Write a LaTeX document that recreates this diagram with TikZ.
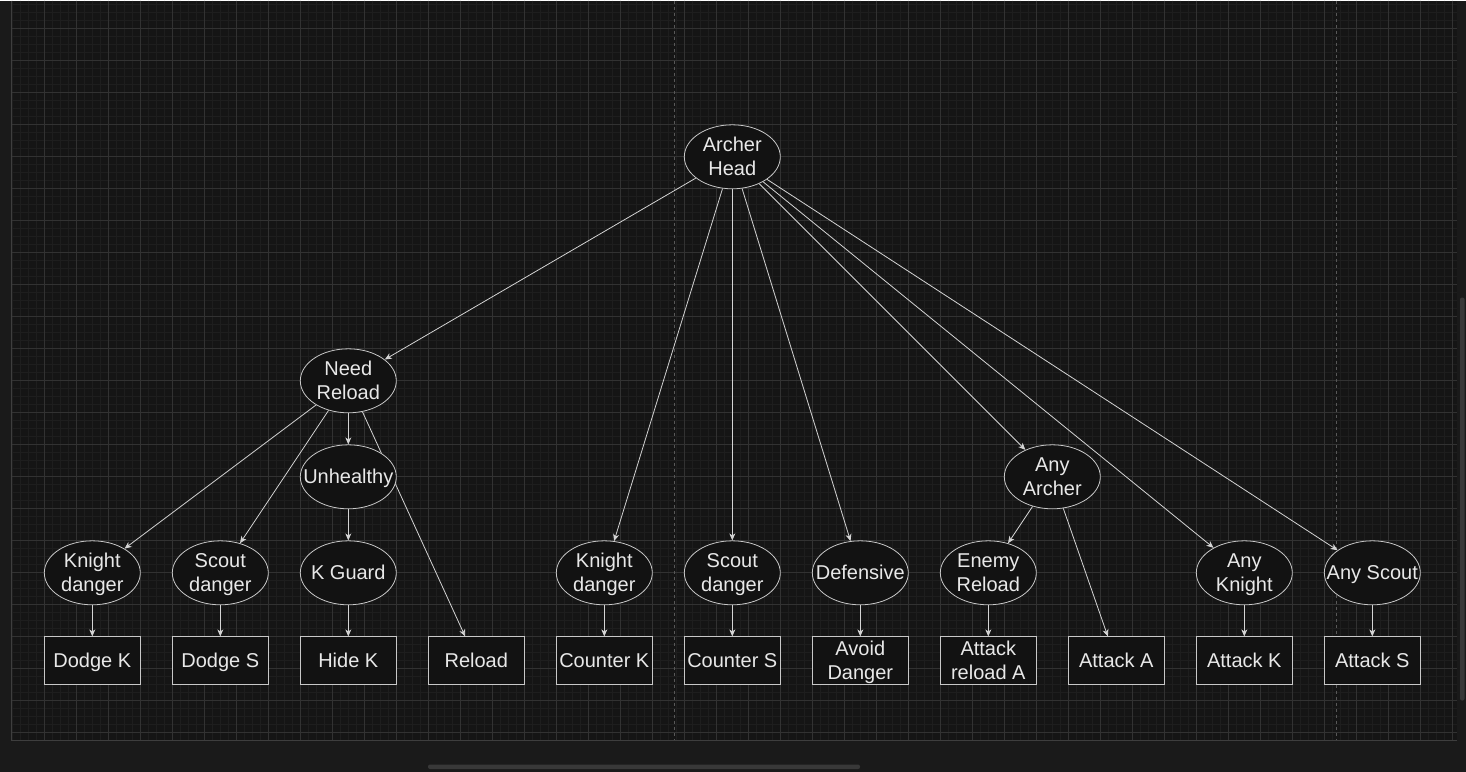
\documentclass[tikz,border=0pt]{standalone}
\usepackage{fontspec}
\setmainfont{Liberation Sans}
\usetikzlibrary{shapes.geometric,arrows.meta}

\definecolor{outerbg}{RGB}{26,26,26}
\definecolor{canvasbg}{RGB}{21,21,21}
\definecolor{gridminor}{RGB}{30,30,30}
\definecolor{gridmajor}{RGB}{50,50,50}
\definecolor{canvasedge}{RGB}{62,62,62}
\definecolor{pagebreak}{RGB}{88,88,88}
\definecolor{shapefill}{RGB}{18,18,18}
\definecolor{shapeline}{RGB}{200,200,200}
\definecolor{edgeline}{RGB}{212,212,212}
\definecolor{labeltext}{RGB}{232,232,232}
\definecolor{scrollbar}{RGB}{56,56,56}

\pgfdeclarelayer{canvas}
\pgfdeclarelayer{links}
\pgfsetlayers{canvas,links,main}

% strut giving every text line the same height and depth
\newcommand\sst{\rule[-4pt]{0pt}{21.5pt}}

\tikzset{
  txt/.style={font=\fontsize{20}{23.5}\selectfont, text=labeltext, align=center, inner sep=0pt},
  cond/.style={ellipse, draw=shapeline, fill=shapefill, line width=0.8pt, inner sep=0pt,
               minimum width=96pt, minimum height=64pt},
  act/.style={rectangle, draw=shapeline, fill=shapefill, line width=0.8pt, inner sep=0pt,
              minimum width=96pt, minimum height=48pt},
  edge/.style={draw=edgeline, line width=0.8pt,
               -{Stealth[length=7pt,width=6pt,inset=2pt]}},
}

% shape of fixed size with its caption laid over it
\newcommand\condnode[3]{\node[cond] (#1) at (#2) {}; \node[txt] (#1-text) at (#1) {#3};}
\newcommand\actnode[3]{\node[act] (#1) at (#2) {}; \node[txt] (#1-text) at (#1) {#3};}

\begin{document}
\begin{tikzpicture}[x=1pt,y=-1pt]
  \begin{pgfonlayer}{canvas}
    % window and canvas
    \fill[outerbg] (0,0) rectangle (1466,771);
    \fill[canvasbg] (12,0) rectangle (1457,740);
    \begin{scope}
      \clip (12,0) rectangle (1457,740);
      \foreach \k in {0,...,181} \draw[gridminor, line width=0.8pt] (12.3+8*\k,0) -- (12.3+8*\k,740);
      \foreach \k in {0,...,92} \draw[gridminor, line width=0.8pt] (12,4.3+8*\k) -- (1457,4.3+8*\k);
      \foreach \k in {0,...,45} \draw[gridmajor, line width=0.9pt] (44.3+32*\k,0) -- (44.3+32*\k,740);
      \foreach \k in {0,...,22} \draw[gridmajor, line width=0.9pt] (12,28.3+32*\k) -- (1457,28.3+32*\k);
      \draw[pagebreak, line width=0.9pt, dash pattern=on 3pt off 3pt] (674.3,0) -- (674.3,740);
      \draw[pagebreak, line width=0.9pt, dash pattern=on 3pt off 3pt] (1336.7,0) -- (1336.7,740);
    \end{scope}
    \draw[canvasedge, line width=1pt] (11.7,0) -- (11.7,740.3) -- (1457,740.3);
    % scroll bars
    \fill[scrollbar, rounded corners=2pt] (428,764) rectangle (860,768.5);
    \fill[scrollbar, rounded corners=2pt] (1460,297) rectangle (1464.5,700);
  \end{pgfonlayer}
  \useasboundingbox (0,0) rectangle (1466,771);

  % conditions
  \condnode{head}{732.3,156.3}{\sst Archer\\\sst Head}
  \condnode{needreload}{348.3,380.3}{\sst Need\\\sst Reload}
  \condnode{unhealthy}{348.3,476.3}{\sst Unhealthy}
  \condnode{anyarcher}{1052.3,476.3}{\sst Any\\\sst Archer}
  \condnode{kdangerA}{92.3,572.3}{\sst Knight\\\sst danger}
  \condnode{sdangerA}{220.3,572.3}{\sst Scout\\\sst danger}
  \condnode{kguard}{348.3,572.3}{\sst K Guard}
  \condnode{kdangerB}{604.3,572.3}{\sst Knight\\\sst danger}
  \condnode{sdangerB}{732.3,572.3}{\sst Scout\\\sst danger}
  \condnode{defensive}{860.3,572.3}{\sst Defensive}
  \condnode{enemyreload}{988.3,572.3}{\sst Enemy\\\sst Reload}
  \condnode{anyknight}{1244.3,572.3}{\sst Any\\\sst Knight}
  \condnode{anyscout}{1372.3,572.3}{\sst Any Scout}

  % actions
  \actnode{dodgek}{92.3,660.3}{\sst Dodge K}
  \actnode{dodges}{220.3,660.3}{\sst Dodge S}
  \actnode{hidek}{348.3,660.3}{\sst Hide K}
  \actnode{reload}{476.3,660.3}{\sst Reload}
  \actnode{counterk}{604.3,660.3}{\sst Counter K}
  \actnode{counters}{732.3,660.3}{\sst Counter S}
  \actnode{avoid}{860.3,660.3}{\sst Avoid\\\sst Danger}
  \actnode{attackra}{988.3,660.3}{\sst Attack\\\sst reload A}
  \actnode{attacka}{1116.3,660.3}{\sst Attack A}
  \actnode{attackk}{1244.3,660.3}{\sst Attack K}
  \actnode{attacks}{1372.3,660.3}{\sst Attack S}

  % connectors, kept behind the shapes
  \begin{pgfonlayer}{links}
    \path[edge] (head) -- (needreload);
    \path[edge] (head) -- (kdangerB);
    \path[edge] (head) -- (sdangerB);
    \path[edge] (head) -- (defensive);
    \path[edge] (head) -- (anyarcher);
    \path[edge] (head) -- (anyknight);
    \path[edge] (head) -- (anyscout);
    \path[edge] (needreload) -- (kdangerA);
    \path[edge] (needreload) -- (sdangerA);
    \path[edge] (needreload) -- (unhealthy);
    \path[edge] (needreload) -- (reload);
    \path[edge] (unhealthy) -- (kguard);
    \path[edge] (anyarcher) -- (enemyreload);
    \path[edge] (anyarcher) -- (attacka);
    \path[edge] (kdangerA) -- (dodgek);
    \path[edge] (sdangerA) -- (dodges);
    \path[edge] (kguard) -- (hidek);
    \path[edge] (kdangerB) -- (counterk);
    \path[edge] (sdangerB) -- (counters);
    \path[edge] (defensive) -- (avoid);
    \path[edge] (enemyreload) -- (attackra);
    \path[edge] (anyknight) -- (attackk);
    \path[edge] (anyscout) -- (attacks);
  \end{pgfonlayer}
\end{tikzpicture}
\end{document}
